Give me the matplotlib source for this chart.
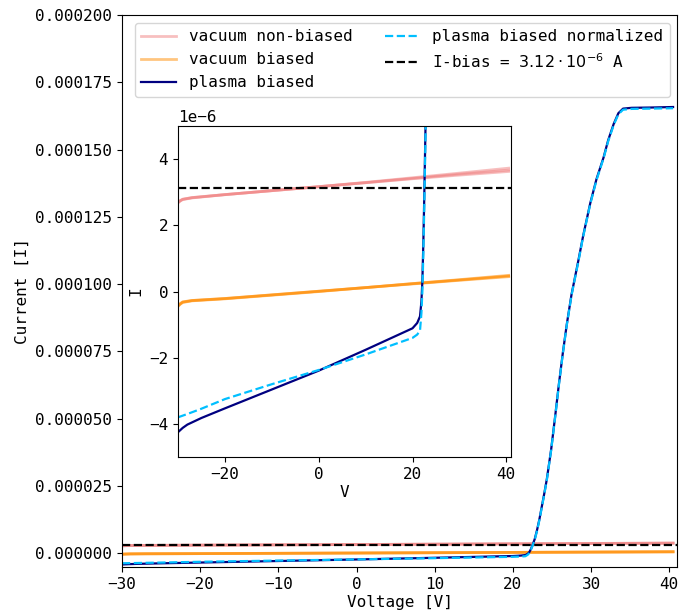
import matplotlib
matplotlib.use("Agg")
import matplotlib.pyplot as plt

plt.rcParams["font.family"] = "DejaVu Sans Mono"
plt.rcParams["font.size"] = 11.5

# plasma biased sweep (V, I in 1e-6 A)
V_plasma = [-30, -29, -28, -25, -20, -10, 0, 10, 20, 21, 21.6, 21.9, 22.1, 22.3, 22.5,
            22.8, 23.1, 23.4, 23.7, 24.0, 24.35, 24.9, 25.4, 25.9, 26.4, 26.9, 27.5,
            28.4, 29.0, 29.9, 30.7, 31.6, 32.2, 32.9, 33.5, 34.1, 35.2, 37.5, 40.5]
I_plasma = [-4.25, -4.12, -4.02, -3.82, -3.53, -2.96, -2.39, -1.76, -1.11, -0.95, -0.75,
            -0.3, 0.3, 1.4, 2.8, 5.2, 8.6, 12.6, 17.2, 21.8, 27.5, 38.5, 50.5, 63, 74.5,
            85, 96, 109, 118, 130, 139, 147, 153.5, 159.5, 163.5, 165.2, 165.5, 165.6,
            165.8]
I_norm = [-3.80, -3.75, -3.70, -3.54, -3.25, -2.80, -2.37, -1.90, -1.40, -1.30, -1.18,
          -0.65, 0.0, 1.1, 2.5, 4.9, 8.3, 12.3, 16.9, 21.5, 27.2, 38.2, 50.2, 62.7, 74.2,
          84.7, 95.7, 108.6, 117.7, 129.7, 138.6, 146.7, 153.1, 159.1, 163.1, 164.8,
          165.1, 165.2, 165.35]

# vacuum sweeps (three repeats each)
V_vac = [-30, -29.5, -29, -27, -20, -10, 0, 10, 20, 30, 40.5]
I_vac_nb = [
    [2.68, 2.74, 2.78, 2.83, 2.93, 3.05, 3.17, 3.30, 3.44, 3.58, 3.73],
    [2.70, 2.75, 2.79, 2.84, 2.93, 3.05, 3.17, 3.29, 3.41, 3.52, 3.63],
    [2.69, 2.75, 2.79, 2.84, 2.93, 3.05, 3.17, 3.29, 3.42, 3.55, 3.67],
]
I_vac_b = [
    [-0.45, -0.38, -0.33, -0.28, -0.22, -0.11, 0.0, 0.12, 0.24, 0.36, 0.49],
    [-0.42, -0.36, -0.31, -0.27, -0.21, -0.10, 0.01, 0.12, 0.23, 0.34, 0.45],
    [-0.43, -0.37, -0.32, -0.27, -0.21, -0.10, 0.01, 0.12, 0.24, 0.35, 0.47],
]
I_BIAS = 3.12

scale = 1e-6


def draw(ax, with_labels):
    for k, sweep in enumerate(I_vac_nb):
        ax.plot(V_vac, [v * scale for v in sweep], color="lightcoral", alpha=0.5, lw=2,
                label="vacuum non-biased" if (with_labels and k == 0) else None)
    for k, sweep in enumerate(I_vac_b):
        ax.plot(V_vac, [v * scale for v in sweep], color="darkorange", alpha=0.5, lw=2,
                label="vacuum biased" if (with_labels and k == 0) else None)
    ax.plot(V_plasma, [v * scale for v in I_plasma], color="navy", lw=1.6,
            label="plasma biased" if with_labels else None)
    ax.plot(V_plasma, [v * scale for v in I_norm], color="deepskyblue", ls="--", lw=1.6,
            label="plasma biased normalized" if with_labels else None)
    ax.axhline(I_BIAS * scale, color="black", ls="--", lw=1.6,
               label=r"I-bias = $3.12 \cdot 10^{-6}$ A" if with_labels else None)


fig = plt.figure(figsize=(6.94, 6.15), dpi=100)
ax = fig.add_axes([0.1758, 0.078, 0.7997, 0.8976])
draw(ax, True)
ax.set_xlim(-30, 41)
ax.set_ylim(-5.2e-6, 2e-4)
ax.ticklabel_format(axis="y", style="plain", useOffset=False)
ax.set_xlabel("Voltage [V]", labelpad=2)
ax.set_ylabel("Current [I]")
ax.legend(loc="upper center", bbox_to_anchor=(0.505, 1.0), ncol=2, fontsize=11.5,
          handlelength=2.2, columnspacing=2.0)

axin = fig.add_axes([0.2565, 0.2569, 0.4798, 0.538])
draw(axin, False)
axin.set_xlim(-30, 41)
axin.set_ylim(-5e-6, 5e-6)
axin.set_xlabel("V", labelpad=2)
axin.set_ylabel("I")

fig.savefig("out.png", dpi=100)
